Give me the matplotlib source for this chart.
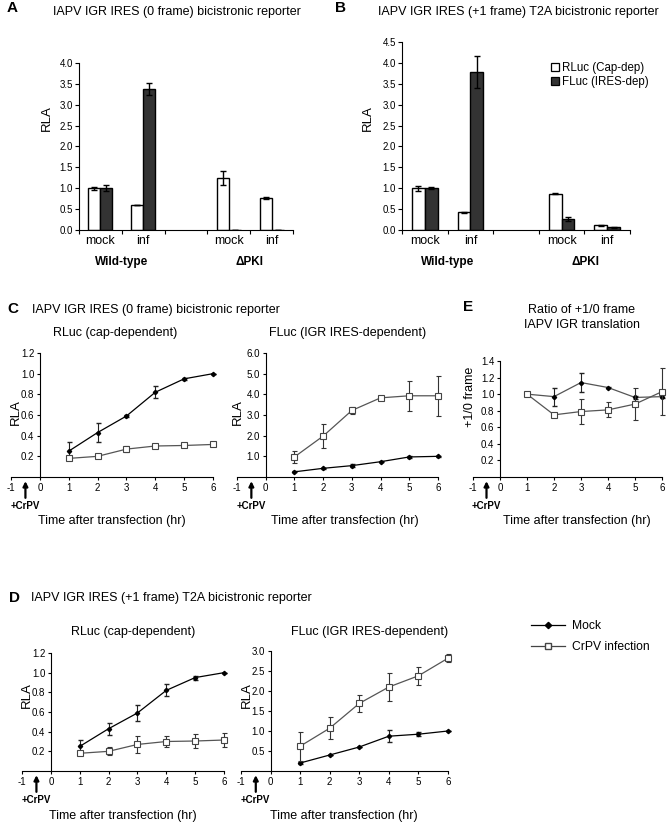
import numpy as np
import matplotlib
matplotlib.use("Agg")
import matplotlib.pyplot as plt
from matplotlib.lines import Line2D
from matplotlib.patches import Patch

plt.rcParams['font.family'] = ['Liberation Sans', 'DejaVu Sans']
plt.rcParams['axes.unicode_minus'] = False

W, H = 672, 822

# bar panels (A, B): slots 0,1 = wild-type, 3,4 = dPKI (slot 2 left empty)
bar_slots = [0, 1, 3, 4]
bar_labels = ["mock", "inf", "mock", "inf"]

a_rluc = [1.00, 0.60, 1.25, 0.77]
a_rluc_err = [0.03, 0.01, 0.17, 0.02]
a_fluc = [1.00, 3.38, 0.01, 0.005]
a_fluc_err = [0.07, 0.15, 0.0, 0.0]

b_rluc = [1.00, 0.42, 0.87, 0.11]
b_rluc_err = [0.06, 0.02, 0.02, 0.02]
b_fluc = [1.00, 3.78, 0.27, 0.06]
b_fluc_err = [0.02, 0.38, 0.05, 0.02]

# time course panels
hours = [1, 2, 3, 4, 5, 6]

c_rluc_mock = [0.25, 0.43, 0.59, 0.82, 0.95, 1.00]
c_rluc_mock_err = [0.09, 0.09, 0.01, 0.06, 0.01, 0.0]
c_rluc_crpv = [0.18, 0.20, 0.27, 0.30, 0.305, 0.315]
c_rluc_crpv_err = [0.02, 0.01, 0.03, 0.01, 0.01, 0.01]

c_fluc_mock = [0.25, 0.42, 0.55, 0.74, 0.97, 1.00]
c_fluc_mock_err = [0.02, 0.03, 0.08, 0.03, 0.05, 0.02]
c_fluc_crpv = [0.97, 1.98, 3.22, 3.83, 3.93, 3.93]
c_fluc_crpv_err = [0.30, 0.57, 0.17, 0.06, 0.73, 0.97]

e_mock = [1.00, 0.97, 1.14, 1.08, 0.96, 0.97]
e_mock_err = [0.0, 0.11, 0.12, 0.01, 0.02, 0.02]
e_crpv = [1.00, 0.75, 0.79, 0.81, 0.88, 1.03]
e_crpv_err = [0.0, 0.01, 0.15, 0.09, 0.19, 0.28]

d_rluc_mock = [0.25, 0.43, 0.59, 0.82, 0.95, 1.00]
d_rluc_mock_err = [0.07, 0.06, 0.08, 0.06, 0.02, 0.0]
d_rluc_crpv = [0.18, 0.20, 0.27, 0.30, 0.305, 0.315]
d_rluc_crpv_err = [0.01, 0.04, 0.09, 0.06, 0.07, 0.07]

d_fluc_mock = [0.20, 0.40, 0.60, 0.87, 0.92, 1.00]
d_fluc_mock_err = [0.03, 0.01, 0.01, 0.15, 0.05, 0.0]
d_fluc_crpv = [0.62, 1.07, 1.69, 2.10, 2.38, 2.82]
d_fluc_crpv_err = [0.36, 0.28, 0.22, 0.36, 0.23, 0.10]

fig = plt.figure(figsize=(W / 100, H / 100), dpi=100)


def rect(left, top, right, bottom):
    # pixel box -> figure fraction
    return [left / W, 1 - bottom / H, (right - left) / W, (bottom - top) / H]


def ptext(x, y, s, **kw):
    kw.setdefault('ha', 'center')
    kw.setdefault('va', 'center')
    kw.setdefault('fontsize', 9)
    fig.text(x / W, 1 - y / H, s, **kw)


def bar_panel(box, rluc, rluc_err, fluc, fluc_err, top):
    ax = fig.add_axes(box)
    x = np.array(bar_slots)
    w = 0.28
    ekw = dict(elinewidth=1.0, capthick=1.0, ecolor='black')
    ax.bar(x - w / 2, rluc, w, yerr=rluc_err, color='white', edgecolor='black',
           linewidth=1.0, capsize=2.5, error_kw=ekw)
    ax.bar(x + w / 2, fluc, w, yerr=fluc_err, color='#333333', edgecolor='black',
           linewidth=1.0, capsize=2.5, error_kw=ekw)
    ax.set_xlim(-0.5, 4.5)
    ax.set_ylim(0, top)
    ax.set_yticks(np.arange(0, top + 0.01, 0.5))
    ax.set_yticklabels([f"{v:.1f}" for v in np.arange(0, top + 0.01, 0.5)])
    ax.set_xticks(np.arange(-0.5, 4.6, 1))
    ax.set_xticklabels([])
    ax.set_xticks(bar_slots, minor=True)
    ax.set_xticklabels(bar_labels, minor=True, fontsize=9)
    ax.tick_params(axis='x', which='minor', length=0, pad=3.5)
    ax.tick_params(axis='x', which='major', length=3, width=0.8)
    ax.tick_params(axis='y', labelsize=7, length=3, width=0.8, pad=1.5)
    for s in ['top', 'right']:
        ax.spines[s].set_visible(False)
    ax.spines['left'].set_linewidth(0.8)
    ax.spines['bottom'].set_linewidth(0.8)
    return ax


def time_panel(box, mock, mock_err, crpv, crpv_err, top, step, fmt, mock_color='black'):
    ax = fig.add_axes(box)
    ax.errorbar(hours, mock, yerr=mock_err, color=mock_color, marker='D', ms=2.2,
                mfc='black', mec='black', lw=0.9, elinewidth=0.8, capsize=1.8,
                ecolor='#222222', clip_on=False, zorder=3)
    ax.errorbar(hours, crpv, yerr=crpv_err, color='#555555', marker='s', ms=4.2,
                mfc='white', mec='#444444', mew=0.8, lw=0.9, elinewidth=0.8,
                capsize=1.8, ecolor='#333333', clip_on=False, zorder=4)
    ax.set_xlim(-1, 6)
    ax.set_ylim(0, top)
    yt = np.arange(step, top + step / 100, step)
    ax.set_yticks(yt)
    ax.set_yticklabels([fmt.format(v) for v in yt])
    ax.set_xticks(range(-1, 7))
    ax.tick_params(axis='both', labelsize=7, length=2.5, width=0.8, pad=1.5)
    for s in ['top', 'right']:
        ax.spines[s].set_visible(False)
    ax.spines['left'].set_position(('data', 0))
    ax.spines['left'].set_linewidth(0.8)
    ax.spines['bottom'].set_linewidth(0.8)
    ax.annotate('', xy=(-0.5, 0), xycoords=ax.get_xaxis_transform(),
                xytext=(0, -15), textcoords='offset points',
                arrowprops=dict(arrowstyle='-|>', lw=1.6, color='black',
                                mutation_scale=7, shrinkA=0, shrinkB=3))
    ax.annotate('+CrPV', xy=(-0.5, 0), xycoords=ax.get_xaxis_transform(),
                xytext=(0, -21), textcoords='offset points', ha='center', va='center',
                fontsize=7, fontweight='bold')
    return ax


# ---- A ----
bar_panel(rect(79, 63, 293, 230), a_rluc, a_rluc_err, a_fluc, a_fluc_err, 4.0)
ptext(12, 8, "A", fontsize=11, fontweight='bold')
ptext(177, 12, "IAPV IGR IRES (0 frame) bicistronic reporter")
ptext(47, 118, "RLA", rotation=90, fontsize=9.5)
ptext(122, 262, "Wild-type", fontweight='bold', fontsize=8.5)
ptext(250, 262, "\u0394PKI", fontweight='bold', fontsize=8.5)

# ---- B ----
axb = bar_panel(rect(402, 42, 630, 230), b_rluc, b_rluc_err, b_fluc, b_fluc_err, 4.5)
ptext(341, 8, "B", fontsize=11, fontweight='bold')
ptext(518, 12, "IAPV IGR IRES (+1 frame) T2A bicistronic reporter")
ptext(368, 118, "RLA", rotation=90, fontsize=9.5)
ptext(448, 262, "Wild-type", fontweight='bold', fontsize=8.5)
ptext(585, 262, "\u0394PKI", fontweight='bold', fontsize=8.5)
axb.legend(handles=[Patch(fc='white', ec='black', lw=0.9), Patch(fc='#333333', ec='black', lw=0.9)],
           labels=["RLuc (Cap-dep)", "FLuc (IRES-dep)"], loc='upper left',
           bbox_to_anchor=(545 / W, 1 - 56 / H), bbox_transform=fig.transFigure,
           frameon=False, fontsize=8.3, handlelength=0.7, handleheight=0.7,
           handletextpad=0.3, labelspacing=0.2, borderpad=0)

# ---- C ----
time_panel(rect(11, 353, 213, 477), c_rluc_mock, c_rluc_mock_err, c_rluc_crpv, c_rluc_crpv_err,
           1.2, 0.2, "{:.1f}")
time_panel(rect(237, 353, 438, 477), c_fluc_mock, c_fluc_mock_err, c_fluc_crpv, c_fluc_crpv_err,
           6.0, 1.0, "{:.1f}")
ptext(13, 309, "C", fontsize=11, fontweight='bold')
ptext(156, 310, "IAPV IGR IRES (0 frame) bicistronic reporter")
ptext(115, 333, "RLuc (cap-dependent)")
ptext(348, 333, "FLuc (IGR IRES-dependent)")
ptext(16, 412, "RLA", rotation=90, fontsize=9.5)
ptext(238, 412, "RLA", rotation=90, fontsize=9.5)
ptext(112, 521, "Time after transfection (hr)")
ptext(345, 521, "Time after transfection (hr)")

# ---- E ----
time_panel(rect(473, 361, 662, 477), e_mock, e_mock_err, e_crpv, e_crpv_err,
           1.4, 0.2, "{:.1f}", mock_color='#555555')
ptext(468, 307, "E", fontsize=11, fontweight='bold')
ptext(582, 310, "Ratio of +1/0 frame")
ptext(582, 325, "IAPV IGR translation")
ptext(470, 397, "+1/0 frame", rotation=90)
ptext(577, 521, "Time after transfection (hr)")

# ---- D ----
time_panel(rect(22, 653, 224, 771), d_rluc_mock, d_rluc_mock_err, d_rluc_crpv, d_rluc_crpv_err,
           1.2, 0.2, "{:.1f}")
time_panel(rect(241, 651, 448, 771), d_fluc_mock, d_fluc_mock_err, d_fluc_crpv, d_fluc_crpv_err,
           3.0, 0.5, "{:.1f}")
ptext(15, 598, "D", fontsize=11, fontweight='bold')
ptext(171, 598, "IAPV IGR IRES (+1 frame) T2A bicistronic reporter")
ptext(133, 632, "RLuc (cap-dependent)")
ptext(370, 632, "FLuc (IGR IRES-dependent)")
ptext(27, 695, "RLA", rotation=90, fontsize=9.5)
ptext(247, 695, "RLA", rotation=90, fontsize=9.5)
ptext(123, 816, "Time after transfection (hr)")
ptext(344, 816, "Time after transfection (hr)")

fig.legend(handles=[Line2D([], [], color='black', marker='D', ms=3.2, lw=0.9),
                    Line2D([], [], color='#444444', marker='s', ms=4.2, mfc='white', lw=0.9)],
           labels=["Mock", "CrPV infection"], loc='upper left',
           bbox_to_anchor=(525 / W, 1 - 614 / H), frameon=False, fontsize=8.7,
           handlelength=2.8, labelspacing=0.75, borderpad=0, handletextpad=0.6)

fig.savefig("out.png", dpi=100)
